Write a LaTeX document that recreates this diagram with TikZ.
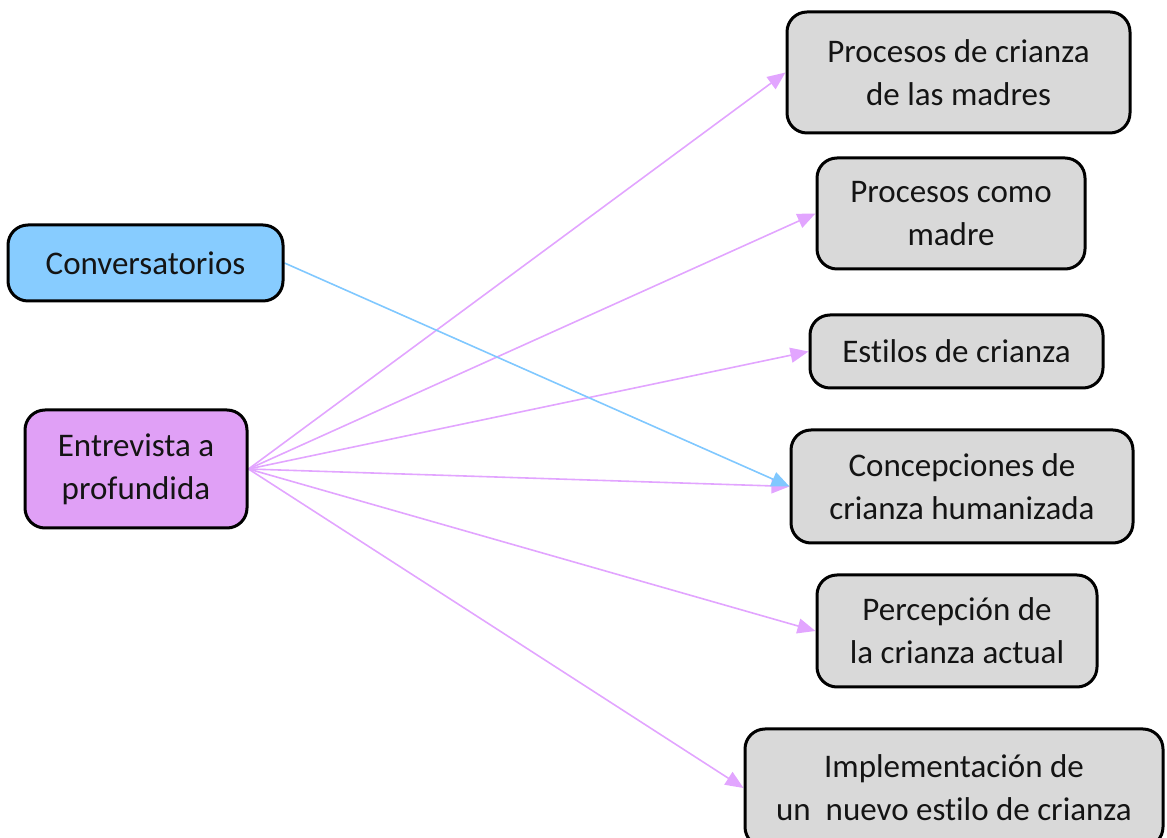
\documentclass[tikz,border=0pt]{standalone}
\usepackage{fontspec}
\setmainfont{Carlito}[Ligatures=NoCommon]
\usepackage{tikz}
\usetikzlibrary{arrows.meta,backgrounds,positioning}
\definecolor{fontgray}{RGB}{20, 20, 20}
\definecolor{skyblue}{RGB}{135, 204, 255}
\definecolor{lilac}{RGB}{224, 160, 246}
\definecolor{boxgray}{RGB}{217, 217, 217}
\definecolor{linkpink}{RGB}{226, 165, 255}
\definecolor{linkblue}{RGB}{128, 200, 255}

\begin{document}
\begin{tikzpicture}[x=0.5pt, y=-0.5pt, >={Triangle[length=9pt, width=7.5pt]},
			box/.style={draw=black, rectangle, rounded corners=10pt, line width=1.5pt, inner sep=0pt, align=center, text=fontgray, font=\fontsize{16.5}{21.5}\selectfont},
			convlabel/.style={box, fill=skyblue},
			entrlabel/.style={box, fill=lilac},
			catlabel/.style={box, fill=boxgray},
			pinkLine/.style={line width=0.8pt, ->, color=linkpink},
			blueLine/.style={line width=0.8pt, ->, color=linkblue}
			]
			\useasboundingbox (0,0) rectangle (1167,838);
			
			\node[convlabel, minimum width=137.5pt, minimum height=38pt](m0) at (145.5,263) {Conversatorios};
			\node[entrlabel, minimum width=111pt, minimum height=59pt](m1) at (136,469) {Entrevista a\\profundida};
			
			\node[catlabel, minimum width=171.5pt, minimum height=60.5pt](c1) at (958.5,72.5) {Procesos de crianza\\de las madres};
			\node[catlabel, minimum width=134pt, minimum height=55.5pt](c2) at (951,213.5) {Procesos como\\madre};
			\node[catlabel, minimum width=146.5pt, minimum height=36.5pt](c3) at (956.5,351.5) {Estilos de crianza};
			\node[catlabel, minimum width=171pt, minimum height=56.5pt](c4) at (962,486.5) {Concepciones de\\crianza humanizada};
			\node[catlabel, minimum width=140pt, minimum height=56pt](c5) at (957,631) {Percepción de\\la crianza actual};
			\node[catlabel, minimum width=209pt, minimum height=59pt](c6) at (954,788) {Implementación de\\un\ \ nuevo estilo de crianza};
			
			\begin{pgfonlayer}{background}
			
			\draw [pinkLine] (m1.east) to (c1.west);
			\draw [pinkLine] (m1.east) to (c2.west);
			\draw [pinkLine] (m1.east) to (c3.west);
			\draw [pinkLine] (m1.east) to (c4.west);
			\draw [pinkLine] (m1.east) to (c5.west);
			\draw [pinkLine] (m1.east) to (c6.west);
			
			\draw [blueLine] (m0.east) to (c4.west);
			
			\end{pgfonlayer}
			
\end{tikzpicture}
\end{document}
